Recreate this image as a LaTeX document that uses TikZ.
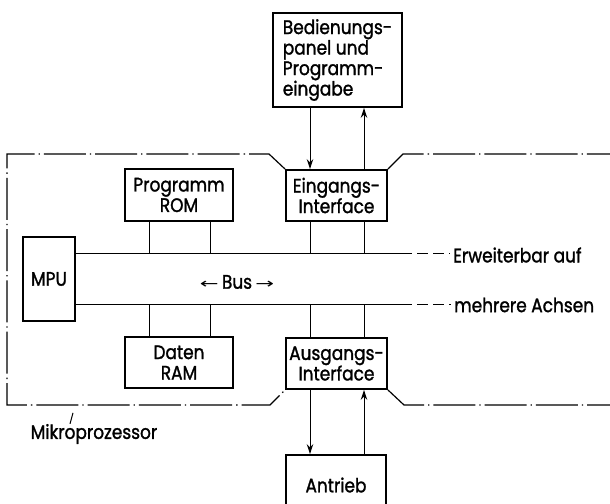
\documentclass[tikz,border=0pt]{standalone}
\usepackage{fontspec}
\setmainfont{Poppins}[FakeBold=1.4, FakeStretch=0.87]
\newfontfamily\arrowfont{DejaVu Sans}
\usetikzlibrary{arrows.meta}

\tikzset{
    block/.style={draw, line width=1.9pt, align=center, inner sep=0pt,
        font=\fontsize{19.5}{20.5}\selectfont},
    link/.style={line width=1pt},
    flow/.style={line width=1pt, -{Stealth[length=10pt,width=6.5pt]}},
    border/.style={line width=1.2pt, dash pattern=on 42pt off 4pt on 1.3pt off 4pt},
    ext/.style={line width=1pt, dash pattern=on 11pt off 5pt},
    lbl/.style={font=\fontsize{19.5}{20.5}\selectfont, inner sep=0pt}
}
\newcommand{\busarrow}[1]{{\arrowfont\fontsize{14}{15}\selectfont\scalebox{1.6}[1]{#1}}}

\begin{document}
\begin{tikzpicture}[x=1pt, y=-1pt]
    \useasboundingbox (0,0) rectangle (610,503);
    \clip (0,0) rectangle (610,503);

    \begin{scope}[every node/.style={block}]

        \node[minimum width=129pt, minimum height=94pt, align=left] (panel) at (337.5,60)
            {Bedienungs-\\panel und\\Programm-\\eingabe};
        \node[minimum width=108pt, minimum height=52pt] (rom) at (179,195) {Programm\\ROM};
        \node[minimum width=101pt, minimum height=51pt] (ein) at (336.5,195.5) {Eingangs-\\Interface};
        \node[minimum width=52pt, minimum height=84pt] (mpu) at (49,279) {MPU};
        \node[minimum width=108pt, minimum height=51pt] (ram) at (179,362.5) {Daten\\RAM};
        \node[minimum width=101pt, minimum height=51pt] (aus) at (336.5,363.5) {Ausgangs-\\Interface};
        \node[minimum width=100pt, minimum height=60pt] (antrieb) at (336,485) {Antrieb};

    \end{scope}

    % bus
    \coordinate (ubus) at (401,253);
    \coordinate (lbus) at (401,304);
    \node[lbl, anchor=west] (erw) at (453,255) {Erweiterbar auf};
    \node[lbl, anchor=west] (ach) at (454,305) {mehrere Achsen};
    \node[lbl] (bus) at (237,282) {\busarrow{←}\,Bus\,\busarrow{→}};

    \path[link] (mpu.east |- ubus) edge (ubus);
    \path[link] (mpu.east |- lbus) edge (lbus);
    \path[ext] (ubus) edge ([xshift=-3pt]erw.west |- ubus);
    \path[ext] (lbus) edge ([xshift=-3pt]ach.west |- lbus);

    \path[link] ([xshift=-30pt]rom.south) edge ([xshift=-30pt]rom.south |- ubus);
    \path[link] ([xshift=31pt]rom.south) edge ([xshift=31pt]rom.south |- ubus);
    \path[link] ([xshift=-26.5pt]ein.south) edge ([xshift=-26.5pt]ein.south |- ubus);
    \path[link] ([xshift=27.5pt]ein.south) edge ([xshift=27.5pt]ein.south |- ubus);
    \path[link] ([xshift=-30pt]ram.north) edge ([xshift=-30pt]ram.north |- lbus);
    \path[link] ([xshift=31pt]ram.north) edge ([xshift=31pt]ram.north |- lbus);
    \path[link] ([xshift=-26.5pt]aus.north) edge ([xshift=-26.5pt]aus.north |- lbus);
    \path[link] ([xshift=27.5pt]aus.north) edge ([xshift=27.5pt]aus.north |- lbus);

    % in and out
    \path[flow] ([xshift=-27.5pt]panel.south) edge ([xshift=-26.5pt]ein.north);
    \path[flow] ([xshift=27.5pt]ein.north) edge ([xshift=26.5pt]panel.south);
    \path[flow] ([xshift=-26.5pt]aus.south) edge ([xshift=-26pt]antrieb.north);
    \path[flow] ([xshift=28pt]antrieb.north) edge ([xshift=27.5pt]aus.south);

    % Mikroprozessor
    \draw[border] (ein.north west) -- (269,154) -- (7,154) -- (7,405)
        -- (270,405) -- (aus.south west);
    \draw[border] (ein.north east) -- (403,154) -- (612,154);
    \draw[border] (aus.south east) -- (404,405) -- (612,405);

    \node[lbl] (mp) at (94,434) {Mikroprozessor};
    \draw[line width=1pt] ([xshift=-24pt]mp.north) -- ([xshift=-21pt,yshift=11pt]mp.north);

\end{tikzpicture}
\end{document}
